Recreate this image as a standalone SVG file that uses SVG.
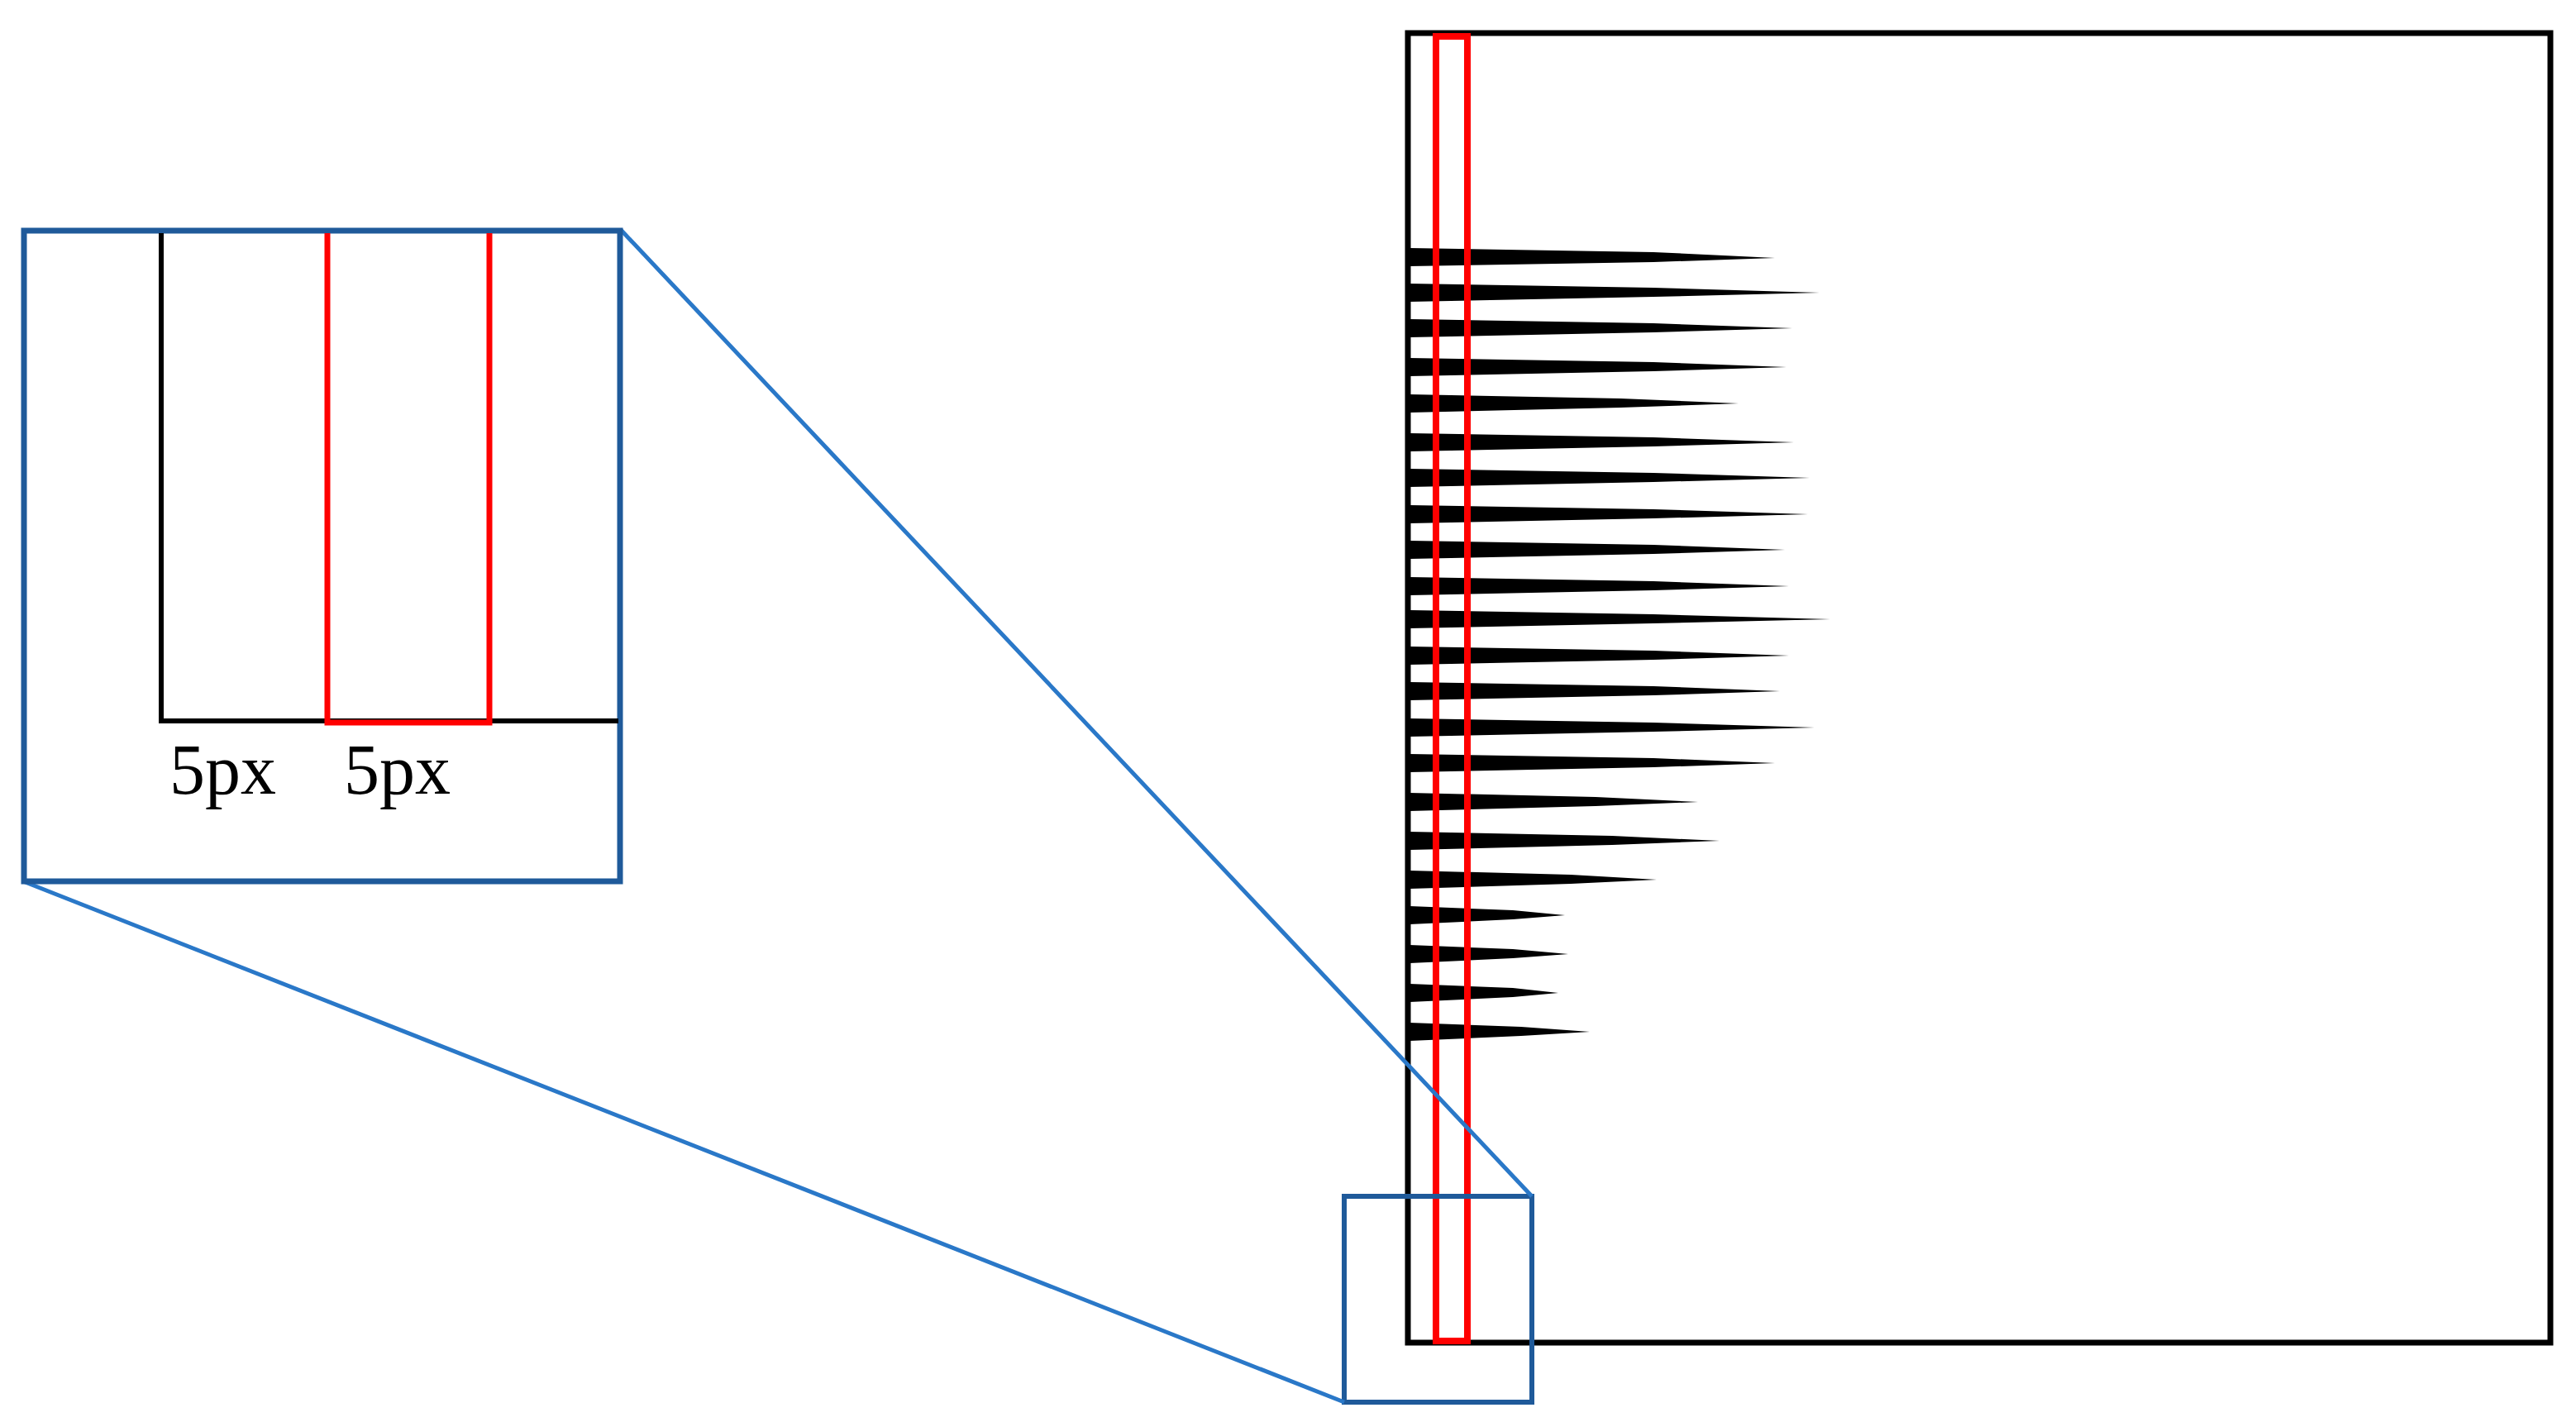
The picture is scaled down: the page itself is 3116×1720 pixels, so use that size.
<svg xmlns="http://www.w3.org/2000/svg" width="3116" height="1720" viewBox="0 0 3116 1720">
<style>
.spk{fill:#000}
.lbl{font-family:"Liberation Serif",serif;font-size:86px;fill:#000}
</style>
<rect width="3116" height="1720" fill="#fff"/>
<g id="main">
<rect x="1703" y="40" width="1382" height="1584" fill="none" stroke="#000" stroke-width="7"/>
<g id="spikes" class="spk">
<path d="M1705 300 L2000 305 L2147 312 L2000 317 L1705 322Z"/>
<path d="M1705 343 L2000 348 L2201 354 L2000 359 L1705 365Z"/>
<path d="M1705 386 L2000 391 L2168 397 L2000 402 L1705 408Z"/>
<path d="M1705 433 L2000 438 L2161 444 L2000 449 L1705 455Z"/>
<path d="M1705 477 L1960 482 L2103 488 L1960 493 L1705 499Z"/>
<path d="M1705 524 L2000 529 L2170 535 L2000 540 L1705 546Z"/>
<path d="M1705 567 L2000 572 L2189 578 L2000 583 L1705 589Z"/>
<path d="M1705 611 L2000 616 L2187 622 L2000 627 L1705 633Z"/>
<path d="M1705 654 L2000 659 L2159 665 L2000 670 L1705 676Z"/>
<path d="M1705 698 L2000 703 L2164 709 L2000 714 L1705 720Z"/>
<path d="M1705 738 L2000 743 L2214 749 L2000 754 L1705 760Z"/>
<path d="M1705 782 L2000 787 L2164 793 L2000 798 L1705 804Z"/>
<path d="M1705 825 L2000 830 L2153 836 L2000 841 L1705 847Z"/>
<path d="M1705 869 L2000 874 L2195 880 L2000 885 L1705 891Z"/>
<path d="M1705 912 L2000 917 L2147 923 L2000 928 L1705 934Z"/>
<path d="M1705 959 L1930 964 L2054 970 L1930 975 L1705 981Z"/>
<path d="M1705 1006 L1950 1011 L2080 1017 L1950 1022 L1705 1028Z"/>
<path d="M1705 1053 L1900 1058 L2004 1064 L1900 1069 L1705 1075Z"/>
<path d="M1705 1096 L1830 1101 L1893 1107 L1830 1112 L1705 1118Z"/>
<path d="M1705 1143 L1830 1148 L1897 1154 L1830 1159 L1705 1165Z"/>
<path d="M1705 1190 L1830 1195 L1885 1201 L1830 1206 L1705 1212Z"/>
<path d="M1705 1237 L1840 1242 L1923 1248 L1840 1253 L1705 1259Z"/>
</g>
<rect x="1737" y="44" width="38" height="1578" fill="none" stroke="#f00" stroke-width="8"/>
</g>
<g id="zoombox">
<rect x="1626" y="1447" width="227" height="249" fill="none" stroke="#1f5a9a" stroke-width="6"/>
</g>
<g id="connectors" stroke="#2a78c8" stroke-width="5">
<line x1="751" y1="278" x2="1853" y2="1447"/>
<line x1="28" y1="1066" x2="1626" y2="1696"/>
</g>
<g id="inset">
<rect x="29" y="279" width="721" height="787" fill="#fff" stroke="#1f5a9a" stroke-width="7"/>
<path d="M195 282 V872 H748" fill="none" stroke="#000" stroke-width="6"/>
<path d="M396 282 V874 H592 V282" fill="none" stroke="#f00" stroke-width="7"/>
<text class="lbl" x="205" y="960">5px</text>
<text class="lbl" x="416" y="960">5px</text>
</g>
</svg>
